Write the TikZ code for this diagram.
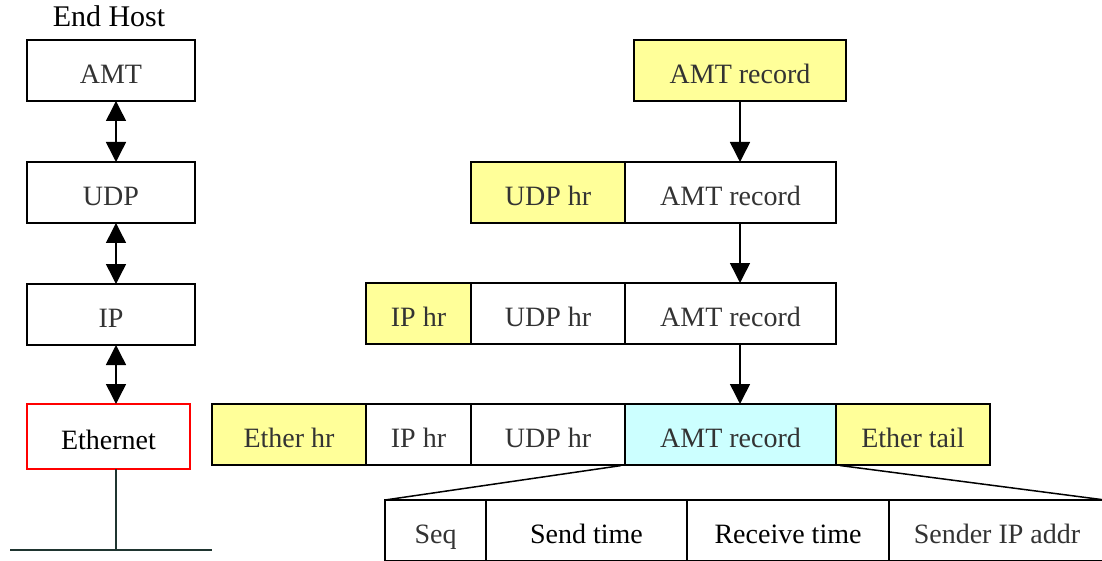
\documentclass[tikz,border=0pt]{standalone}
\usepackage{fontspec}
\setmainfont{Liberation Serif}
\usetikzlibrary{positioning,arrows.meta}
\definecolor{hdr}{HTML}{FFFF99}
\definecolor{payload}{HTML}{CCFFFF}
\definecolor{txt}{HTML}{333333}
\definecolor{wire}{HTML}{1F3530}

\begin{document}
\begin{tikzpicture}[x=0.5pt,y=-0.5pt,
  cell/.style={draw, line width=0.75pt, outer sep=0pt, inner sep=0pt, minimum height=30.5pt,
    text height=13pt, text depth=0pt, font=\fontsize{14pt}{16pt}\selectfont, text=txt},
  hdrcell/.style={cell, fill=hdr},
  flowarrow/.style={line width=0.75pt, -{Triangle[width=10pt,length=10pt]}},
  dbl/.style={line width=0.75pt, {Triangle[width=10pt,length=10pt]}-{Triangle[width=10pt,length=10pt]}}]
  \useasboundingbox (0,0) rectangle (1102,561);

  \node[font=\fontsize{15pt}{17pt}\selectfont, anchor=base] (host) at (109,27) {End Host};
  \node[cell, minimum width=84pt, anchor=north west] (amt) at (27,40) {AMT};
  \node[cell, minimum width=84pt, below=30.5pt of amt] (udp) {UDP};
  \node[cell, minimum width=84pt, below=30.5pt of udp] (ip) {IP};
  \node[cell, draw=red, text=black, minimum width=81.5pt, minimum height=32.5pt, anchor=north west] (eth) at (27,404) {Ethernet};

  \node[hdrcell, minimum width=106pt, anchor=north west] (recA) at (634,40) {AMT record};
  \node[hdrcell, minimum width=77pt, anchor=north west] (udpB) at (471,162) {UDP hr};
  \node[cell, minimum width=105.5pt, right=0pt of udpB] (recB) {AMT record};
  \node[hdrcell, minimum width=52.5pt, anchor=north west] (ipC) at (366,283) {IP hr};
  \node[cell, minimum width=77pt, right=0pt of ipC] (udpC) {UDP hr};
  \node[cell, minimum width=105.5pt, right=0pt of udpC] (recC) {AMT record};
  \node[hdrcell, minimum width=77pt, anchor=north west] (ethD) at (212,404) {Ether hr};
  \node[cell, minimum width=52.5pt, right=0pt of ethD] (ipD) {IP hr};
  \node[cell, minimum width=77pt, right=0pt of ipD] (udpD) {UDP hr};
  \node[cell, fill=payload, minimum width=105.5pt, right=0pt of udpD] (recD) {AMT record};
  \node[hdrcell, minimum width=77pt, right=0pt of recD] (tailD) {Ether tail};

  \node[cell, minimum width=50.5pt, anchor=north west] (seq) at (385,500) {Seq};
  \node[cell, text=black, minimum width=100.5pt, right=0pt of seq] (sendt) {Send time};
  \node[cell, text=black, minimum width=101pt, right=0pt of sendt] (recvt) {Receive time};
  \node[cell, minimum width=108pt, right=0pt of recvt] (sip) {Sender IP addr};

  \coordinate (axis) at (116,0);
  \draw[dbl] (axis |- amt.south) -- (axis |- udp.north);
  \draw[dbl] (axis |- udp.south) -- (axis |- ip.north);
  \draw[dbl] (axis |- ip.south) -- (axis |- eth.north);
  \coordinate (busL) at (10,550);
  \coordinate (busR) at (212,550);
  \draw[wire, line width=0.75pt] (axis |- eth.south) -- (axis |- busL);
  \draw[wire, line width=0.75pt] (busL) -- (busR);

  \coordinate (flow) at (740,0);
  \draw[flowarrow] (recA.south) -- (recA.south |- recB.north);
  \draw[flowarrow] (flow |- recB.south) -- (flow |- recC.north);
  \draw[flowarrow] (flow |- recC.south) -- (flow |- recD.north);

  \draw[line width=0.75pt, shorten <=2pt] (recD.south west) -- (seq.north west);
  \draw[line width=0.75pt, shorten <=2pt] (recD.south east) -- (sip.north east);
\end{tikzpicture}
\end{document}
